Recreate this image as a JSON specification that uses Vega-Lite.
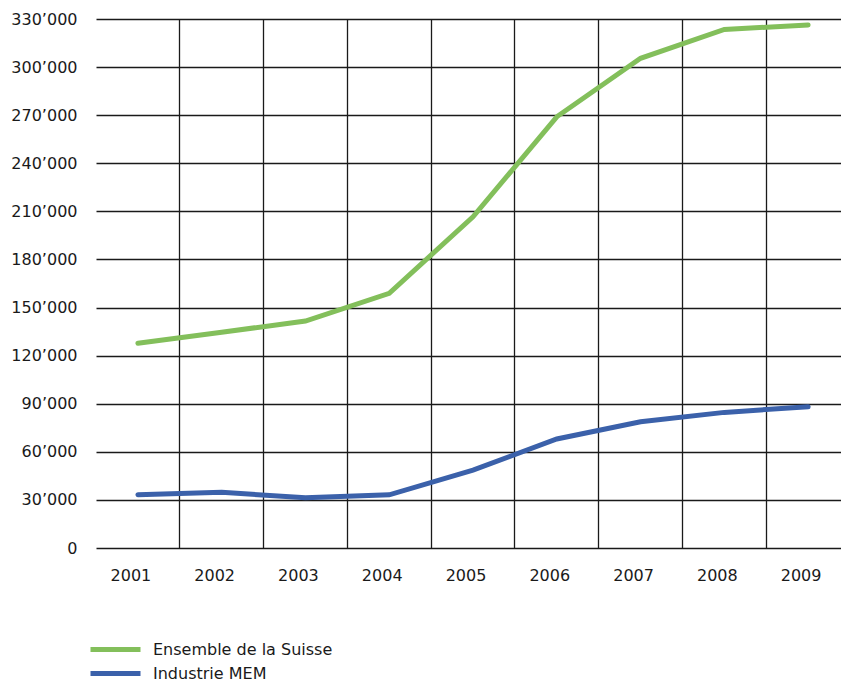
{
  "$schema": "https://vega.github.io/schema/vega-lite/v6.json",
  "autosize": {"type": "none"},
  "padding": {"left": 96, "top": 19, "right": 0, "bottom": 133},
  "width": 745,
  "height": 529,
  "background": "white",
  "data": {
    "values": [
      {"annee": "2001", "serie": "Ensemble de la Suisse", "valeur": 127700},
      {"annee": "2002", "serie": "Ensemble de la Suisse", "valeur": 134600},
      {"annee": "2003", "serie": "Ensemble de la Suisse", "valeur": 141600},
      {"annee": "2004", "serie": "Ensemble de la Suisse", "valeur": 158900},
      {"annee": "2005", "serie": "Ensemble de la Suisse", "valeur": 206600},
      {"annee": "2006", "serie": "Ensemble de la Suisse", "valeur": 269000},
      {"annee": "2007", "serie": "Ensemble de la Suisse", "valeur": 305500},
      {"annee": "2008", "serie": "Ensemble de la Suisse", "valeur": 323500},
      {"annee": "2009", "serie": "Ensemble de la Suisse", "valeur": 326300},
      {"annee": "2001", "serie": "Industrie MEM", "valeur": 33200},
      {"annee": "2002", "serie": "Industrie MEM", "valeur": 34700},
      {"annee": "2003", "serie": "Industrie MEM", "valeur": 31400},
      {"annee": "2004", "serie": "Industrie MEM", "valeur": 33200},
      {"annee": "2005", "serie": "Industrie MEM", "valeur": 48600},
      {"annee": "2006", "serie": "Industrie MEM", "valeur": 68000},
      {"annee": "2007", "serie": "Industrie MEM", "valeur": 78800},
      {"annee": "2008", "serie": "Industrie MEM", "valeur": 84600},
      {"annee": "2009", "serie": "Industrie MEM", "valeur": 88100}
    ]
  },
  "encoding": {
    "x": {
      "field": "annee",
      "type": "ordinal",
      "scale": {"type": "band", "range": [0, 754], "paddingInner": 0, "paddingOuter": 0},
      "axis": {
        "title": null,
        "domain": false,
        "ticks": false,
        "tickSize": 0,
        "grid": true,
        "bandPosition": 0,
        "gridColor": "#1a1a1a",
        "gridWidth": 1.3,
        "gridOpacity": {"condition": {"test": "datum.value === '2001'", "value": 0}, "value": 1},
        "labelAngle": 0,
        "labelFont": "DejaVu Sans",
        "labelFontSize": 16,
        "labelColor": "#1a1a1a",
        "labelPadding": 19,
        "labelOffset": -7
      }
    },
    "y": {
      "field": "valeur",
      "type": "quantitative",
      "scale": {"domain": [0, 330000], "nice": false, "zero": true},
      "axis": {
        "title": null,
        "domain": false,
        "ticks": false,
        "tickSize": 0,
        "values": [0, 30000, 60000, 90000, 120000, 150000, 180000, 210000, 240000, 270000, 300000, 330000],
        "grid": true,
        "gridColor": "#1a1a1a",
        "gridWidth": 1.3,
        "labelExpr": "replace(format(datum.value, ','), ',', '’')",
        "labelFont": "DejaVu Sans",
        "labelFontSize": 16,
        "labelColor": "#1a1a1a",
        "labelPadding": 19
      }
    }
  },
  "layer": [
    {
      "transform": [{"filter": "datum.serie === 'Ensemble de la Suisse'"}],
      "mark": {"type": "line", "strokeWidth": 5, "strokeCap": "round", "strokeJoin": "miter"},
      "encoding": {
        "color": {
          "field": "serie",
          "type": "nominal",
          "scale": {"domain": ["Ensemble de la Suisse"], "range": ["#83bf5b"]},
          "legend": {
            "title": null,
            "orient": "none",
            "legendX": -8,
            "legendY": 603,
            "padding": 0,
            "symbolType": "stroke",
            "symbolSize": 2500,
            "symbolStrokeWidth": 5,
            "labelFont": "DejaVu Sans",
            "labelFontSize": 16,
            "labelColor": "#1a1a1a",
            "labelOffset": 10,
            "labelLimit": 400
          }
        }
      }
    },
    {
      "transform": [{"filter": "datum.serie === 'Industrie MEM'"}],
      "mark": {"type": "line", "strokeWidth": 5, "strokeCap": "round", "strokeJoin": "miter"},
      "encoding": {
        "stroke": {
          "field": "serie",
          "type": "nominal",
          "scale": {"domain": ["Industrie MEM"], "range": ["#3b61aa"]},
          "legend": {
            "title": null,
            "orient": "none",
            "legendX": -8,
            "legendY": 627,
            "padding": 0,
            "symbolType": "stroke",
            "symbolSize": 2500,
            "symbolStrokeWidth": 5,
            "labelFont": "DejaVu Sans",
            "labelFontSize": 16,
            "labelColor": "#1a1a1a",
            "labelOffset": 10,
            "labelLimit": 400
          }
        }
      }
    }
  ],
  "resolve": {"scale": {"color": "independent", "stroke": "independent"}, "legend": {"color": "independent", "stroke": "independent"}},
  "config": {"view": {"stroke": null}}
}
